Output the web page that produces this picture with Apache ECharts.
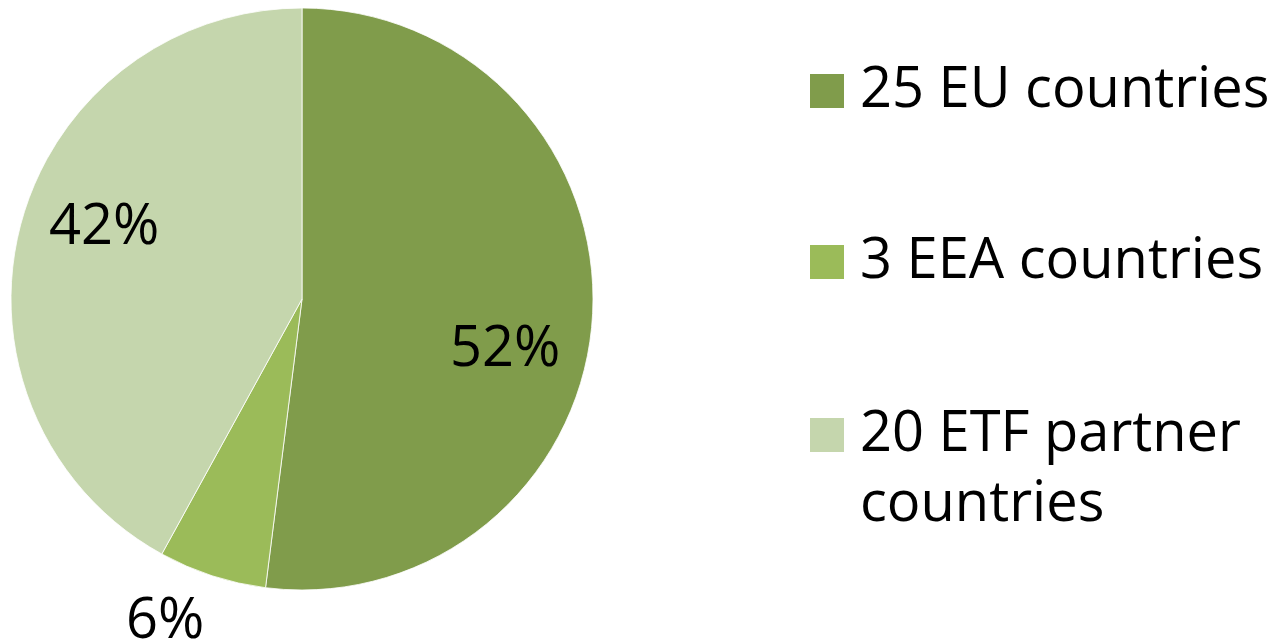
<!DOCTYPE html>
<html>
<head>
<meta charset="utf-8">
<script src="https://cdn.jsdelivr.net/npm/echarts@6/dist/echarts.min.js"></script>
<style>
  html, body { margin: 0; padding: 0; background: #ffffff; }
  #chart { width: 1276px; height: 643px; }
</style>
</head>
<body>
<div id="chart"></div>
<script>
// Share of participating countries by group
const categories = ['25 EU countries', '3 EEA countries', '20 ETF partner countries'];
const shares = [52, 6, 42];
const colors = ['#809C4B', '#9BBB59', '#C5D6AD'];

// Per-slice label nudges (pixels from the default inside position)
const labelOffsets = [[55, 42], [-91, 182], [-54, -34]];

const FONT = '"Open Sans", "Noto Sans", sans-serif';

const chart = echarts.init(document.getElementById('chart'), null, { renderer: 'canvas' });

const legendText = {
  fontFamily: FONT,
  fontSize: 56,
  color: '#000000',
  lineHeight: 70,
  padding: [0, 0, 0, 10]
};

chart.setOption({
  backgroundColor: '#ffffff',
  animation: false,
  legend: [
    {
      data: categories.slice(0, 2),
      orient: 'vertical',
      left: 808,
      top: 56,
      padding: 0,
      itemGap: 101,
      itemWidth: 36,
      itemHeight: 36,
      icon: 'rect',
      selectedMode: false,
      textStyle: legendText
    },
    {
      // wrapped entry: a blank leading line keeps the first text line beside the swatch
      data: categories.slice(2),
      orient: 'vertical',
      left: 808,
      top: 330,
      padding: 0,
      itemWidth: 36,
      itemHeight: 36,
      icon: 'rect',
      selectedMode: false,
      formatter: name => ' \n' + name.replace(' partner ', ' partner\n'),
      textStyle: legendText
    }
  ],
  series: [
    {
      type: 'pie',
      center: [302, 299],
      radius: [0, 291],
      startAngle: 90,
      clockwise: true,
      avoidLabelOverlap: false,
      silent: true,
      itemStyle: { borderColor: '#ffffff', borderWidth: 0.8 },
      label: {
        show: true,
        position: 'inside',
        formatter: '{c}%',
        fontFamily: FONT,
        fontSize: 56,
        color: '#000000'
      },
      labelLine: { show: false },
      data: categories.map((name, i) => ({
        name: name,
        value: shares[i],
        itemStyle: { color: colors[i] },
        label: { offset: labelOffsets[i] }
      }))
    }
  ]
});
</script>
</body>
</html>
